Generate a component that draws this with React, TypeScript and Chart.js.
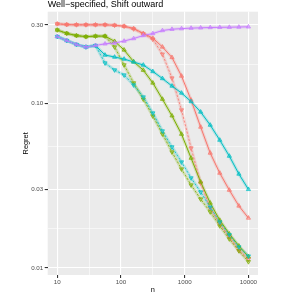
import React, { useEffect, useRef } from "react";
import { Chart, registerables } from "chart.js";

Chart.register(...registerables);

const N_VALUES = [10, 14.1, 20, 28.2, 39.8, 56.2, 79.4, 112, 158, 224, 316, 447, 631, 891, 1259, 1778, 2512, 3548, 5012, 7079, 10000];

const RED_SOLID = [0.304, 0.301, 0.3, 0.3, 0.3, 0.3, 0.298, 0.294, 0.285, 0.266, 0.249, 0.22, 0.19, 0.1465, 0.1047, 0.0718, 0.0499, 0.0377, 0.0297, 0.0238, 0.0201];
const RED_DASHED = [0.304, 0.301, 0.3, 0.3, 0.3, 0.3, 0.298, 0.294, 0.283, 0.264, 0.245, 0.199, 0.1424, 0.0911, 0.0535, 0.0328, 0.0231, 0.0185, 0.0154, 0.0128, 0.0113];
const OLIVE_SOLID = [0.279, 0.266, 0.258, 0.254, 0.256, 0.256, 0.238, 0.211, 0.179, 0.159, 0.133, 0.106, 0.084, 0.065, 0.0465, 0.0333, 0.0248, 0.0195, 0.0161, 0.0136, 0.0117];
const OLIVE_DASHED = [0.279, 0.266, 0.258, 0.254, 0.256, 0.256, 0.22, 0.171, 0.133, 0.106, 0.0837, 0.0651, 0.0506, 0.0399, 0.0319, 0.0262, 0.0219, 0.018, 0.015, 0.0127, 0.0109];
const TEAL_SOLID = [0.2545, 0.2407, 0.2277, 0.2198, 0.2245, 0.1965, 0.1911, 0.1858, 0.1782, 0.1709, 0.1561, 0.1415, 0.1274, 0.1155, 0.1025, 0.0886, 0.0738, 0.0598, 0.0478, 0.0372, 0.03];
const TEAL_DASHED = [0.2545, 0.2407, 0.2277, 0.2198, 0.2245, 0.1757, 0.1594, 0.1485, 0.1292, 0.1092, 0.0873, 0.0679, 0.0543, 0.044, 0.0352, 0.0289, 0.0234, 0.019, 0.0159, 0.0134, 0.0118];
const PURPLE_SOLID = [0.2545, 0.2407, 0.2277, 0.2198, 0.2245, 0.23, 0.2325, 0.239, 0.2475, 0.2582, 0.2655, 0.2769, 0.282, 0.2844, 0.2864, 0.2876, 0.2888, 0.2896, 0.29, 0.2908, 0.2917];

const X_MAJOR = [10, 100, 1000, 10000];
const X_LABELS = ["10", "100", "1000", "10000"];
const Y_MAJOR = [0.01, 0.03, 0.1, 0.3];
const Y_LABELS = ["0.01", "0.03", "0.10", "0.30"];

const TITLE = "Well\u2212specified, Shift outward";
const X_TITLE = "n";
const Y_TITLE = "Regret";

const RED = "#F8766D";
const OLIVE = "#7CAE00";
const TEAL = "#00BFC4";
const PURPLE = "#C77CFF";

const FONT = "'Liberation Sans', Arial, sans-serif";

function alpha(hex: string, a: number) {
  const r = parseInt(hex.slice(1, 3), 16);
  const g = parseInt(hex.slice(3, 5), 16);
  const b = parseInt(hex.slice(5, 7), 16);
  return `rgba(${r},${g},${b},${a})`;
}

function minors(majors: number[]) {
  const out: number[] = [];
  for (let i = 0; i < majors.length - 1; i++) out.push(Math.sqrt(majors[i] * majors[i + 1]));
  return out;
}

function isMajor(v: number, majors: number[]) {
  return majors.some((m) => Math.abs(m - v) / m < 1e-6);
}

function labelFor(v: number, majors: number[], labels: string[]) {
  const i = majors.findIndex((m) => Math.abs(m - v) / m < 1e-6);
  return i >= 0 ? labels[i] : "";
}

export default function App() {
  const ref = useRef<HTMLCanvasElement | null>(null);

  useEffect(() => {
    const canvas = ref.current;
    if (!canvas) return;

    const series = [
      { data: RED_SOLID, color: RED, dashed: false },
      { data: RED_DASHED, color: RED, dashed: true },
      { data: OLIVE_SOLID, color: OLIVE, dashed: false },
      { data: OLIVE_DASHED, color: OLIVE, dashed: true },
      { data: TEAL_SOLID, color: TEAL, dashed: false },
      { data: TEAL_DASHED, color: TEAL, dashed: true },
      { data: PURPLE_SOLID, color: PURPLE, dashed: false },
    ];

    const datasets: any[] = [];
    series.forEach((s, i) => {
      datasets.push({
        data: s.data.map((y, j) => ({ x: N_VALUES[j], y })),
        borderColor: alpha(s.color, 0.22),
        borderWidth: 3.2,
        pointRadius: 0,
        fill: false,
        tension: 0,
        order: 20,
      });
      datasets.push({
        data: s.data.map((y, j) => ({ x: N_VALUES[j], y })),
        borderColor: s.color,
        borderWidth: s.dashed ? 0.8 : 1.0,
        borderDash: s.dashed ? [2.2, 1.6] : [],
        pointStyle: "triangle",
        rotation: s.dashed ? 180 : 0,
        pointRadius: 2.4,
        pointBorderWidth: 0.7,
        pointBackgroundColor: alpha(s.color, 0.45),
        pointBorderColor: s.color,
        fill: false,
        tension: 0,
        order: 10 - i,
      });
    });

    const xMinor = minors(X_MAJOR);
    const yMinor = minors(Y_MAJOR);

    const bgPlugin = {
      id: "panelBg",
      beforeDraw(chart: any) {
        const { ctx, chartArea } = chart;
        ctx.save();
        ctx.fillStyle = "#EBEBEB";
        ctx.fillRect(chartArea.left, chartArea.top, chartArea.right - chartArea.left, chartArea.bottom - chartArea.top);
        ctx.restore();
      },
    };

    const textPlugin = {
      id: "texts",
      afterDraw(chart: any) {
        const { ctx, chartArea } = chart;
        ctx.save();
        ctx.fillStyle = "#000000";
        ctx.font = `9px ${FONT}`;
        ctx.textAlign = "left";
        ctx.textBaseline = "alphabetic";
        ctx.fillText(TITLE, chartArea.left, 6.7);

        ctx.font = `7.4px ${FONT}`;
        ctx.textAlign = "center";
        ctx.fillText(X_TITLE, (chartArea.left + chartArea.right) / 2, 291.5);

        ctx.translate(28.3, (chartArea.top + chartArea.bottom) / 2);
        ctx.rotate(-Math.PI / 2);
        ctx.fillText(Y_TITLE, 0, 0);
        ctx.restore();
      },
    };

    const chart = new Chart(canvas, {
      type: "line",
      data: { datasets },
      plugins: [bgPlugin, textPlugin],
      options: {
        animation: false,
        responsive: false,
        devicePixelRatio: 1,
        layout: { padding: { top: 11.7, right: 23, left: 0, bottom: 0 } },
        plugins: { legend: { display: false }, tooltip: { enabled: false }, title: { display: false } },
        elements: { line: { tension: 0 } },
        scales: {
          x: {
            type: "logarithmic",
            bounds: "data",
            min: Math.pow(10, 0.85),
            max: Math.pow(10, 4.15),
            afterBuildTicks: (s: any) => {
              s.ticks = [...X_MAJOR, ...xMinor].sort((a, b) => a - b).map((v) => ({ value: v }));
            },
            afterFit: (s: any) => {
              s.height = 19;
            },
            ticks: {
              autoSkip: false,
              maxRotation: 0,
              minRotation: 0,
              padding: 0.5,
              color: "#4D4D4D",
              font: { family: FONT, size: 6.2 },
              callback: (v: any) => labelFor(Number(v), X_MAJOR, X_LABELS),
            },
            grid: {
              color: "#FFFFFF",
              lineWidth: (c: any) => (c.tick && isMajor(c.tick.value, X_MAJOR) ? 1.1 : 0.55),
              tickLength: 3,
              tickColor: (c: any) => (c.tick && isMajor(c.tick.value, X_MAJOR) ? "#333333" : "rgba(0,0,0,0)"),
              drawTicks: true,
            },
            border: { display: false },
          },
          y: {
            type: "logarithmic",
            bounds: "data",
            min: Math.pow(10, -2.043),
            max: Math.pow(10, -0.4433),
            afterBuildTicks: (s: any) => {
              s.ticks = [...Y_MAJOR, ...yMinor].sort((a, b) => a - b).map((v) => ({ value: v }));
            },
            afterFit: (s: any) => {
              s.width = 47.7;
            },
            ticks: {
              autoSkip: false,
              padding: 1.5,
              color: "#4D4D4D",
              font: { family: FONT, size: 6.2 },
              callback: (v: any) => labelFor(Number(v), Y_MAJOR, Y_LABELS),
            },
            grid: {
              color: "#FFFFFF",
              lineWidth: (c: any) => (c.tick && isMajor(c.tick.value, Y_MAJOR) ? 1.1 : 0.55),
              tickLength: 3,
              tickColor: (c: any) => (c.tick && isMajor(c.tick.value, Y_MAJOR) ? "#333333" : "rgba(0,0,0,0)"),
              drawTicks: true,
            },
            border: { display: false },
          },
        },
      },
    } as any);

    return () => chart.destroy();
  }, []);

  return (
    <div style={{ position: "absolute", left: 0, top: 0, width: 281, height: 294, background: "#FFFFFF" }}>
      <canvas ref={ref} width={281} height={294} style={{ display: "block", width: 281, height: 294 }} />
    </div>
  );
}
